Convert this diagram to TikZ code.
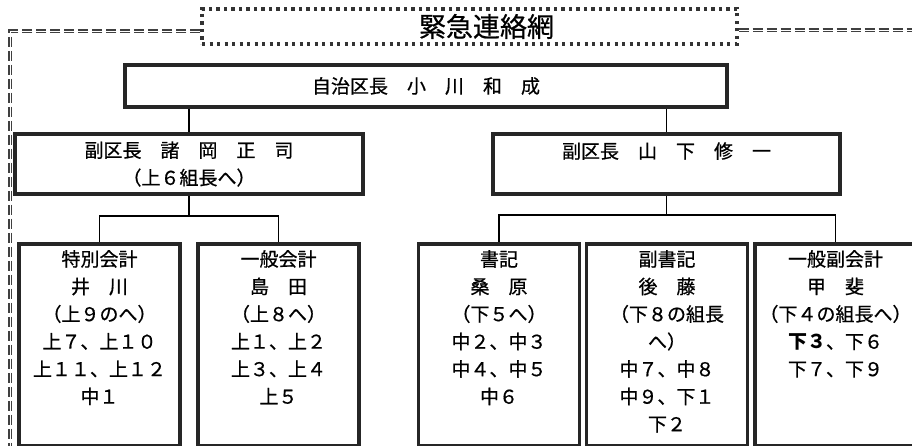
\documentclass[tikz,border=0pt]{standalone}
\usepackage{fontspec}
\setmainfont{Noto Sans CJK JP}[UprightFeatures={FakeBold=0.7}]
\usetikzlibrary{positioning}
\tikzstyle{every node}=[font=\fontsize{19}{27.5}\selectfont]
\tikzstyle{titlebox}=[draw=black!80,line width=3.4pt,dash pattern=on 3.2pt off 4.3pt,minimum width=535pt,minimum height=35pt,inner sep=0pt,font=\fontsize{27}{30}\selectfont]
\tikzstyle{postbox}=[draw=black!85,line width=3.6pt,align=center]
\tikzstyle{memberbox}=[postbox,anchor=north,minimum width=161pt,minimum height=202pt]
\tikzstyle{memberlist}=[anchor=north,align=center,inner sep=2pt,yshift=-6pt]
\tikzstyle{linkline}=[line width=1.8pt]
\tikzstyle{netframe}=[black!75,line width=1.3pt,double=white,double distance=0.8pt,dash pattern=on 10pt off 4pt]

\begin{document}
\begin{tikzpicture}[x=1pt,y=-1pt]
		\useasboundingbox (0,0) rectangle (912,446);
		% title and outer frame
		\node[titlebox] (title) at (469.5,26.5) {\hspace*{34pt}緊急連絡網};
		\coordinate (frameleft) at (10,31);
		\coordinate (frameright) at (920,30);
		\draw[netframe] (frameleft -| title.west) -- (frameleft) -- (10,450);
		\draw[netframe] (frameright -| title.east) -- (frameright);
		
		% chief and deputies
		\node[postbox,minimum width=602pt,minimum height=42pt] (chief) at (426,86) {自治区長　小　川　和　成};
		\node[postbox,minimum width=348pt,minimum height=60pt] (deputyup) at (189,164) {副区長　諸　岡　正　司\\（上６組長へ）};
		\node[postbox,minimum width=347pt,minimum height=60pt] (deputydown) at (666.5,164) {副区長　山　下　修　一\\\mbox{}};
		\draw[linkline] (deputyup.north) -- (deputyup.north |- chief.south);
		\draw[linkline] (deputydown.north) -- (deputydown.north |- chief.south);
		
		% members
		\node[memberbox,label={[memberlist]north:{特別会計\\井　川\\（上９のへ）\\上７、上１０\\上１１、上１２\\中１}}] (tokubetsu) at (99.5,242) {};
		\node[memberbox,label={[memberlist]north:{一般会計\\島　田\\（上８へ）\\上１、上２\\上３、上４\\上５}}] (ippan) at (278.5,242) {};
		\node[memberbox,label={[memberlist]north:{書記\\桑　原\\（下５へ）\\中２、中３\\中４、中５\\中６}}] (shoki) at (499,242) {};
		\node[memberbox,label={[memberlist]north:{副書記\\後　藤\\（下８の組長\\へ）\\中７、中８\\中９、下１\\下２}}] (fukushoki) at (667,242) {};
		\node[memberbox,label={[memberlist]north:{一般副会計\\甲　斐\\（下４の組長へ）\\\textbf{下３}、下６\\下７、下９}}] (fukukaikei) at (835.5,242) {};
		
		% branch lines
		\coordinate (busup) at (0,216);
		\coordinate (busdown) at (0,215);
		\draw[linkline] (deputyup.south) -- (deputyup.south |- busup);
		\draw[linkline] (tokubetsu.north) |- (ippan.north |- busup) -- (ippan.north);
		\draw[linkline] (deputydown.south) -- (deputydown.south |- busdown);
		\draw[linkline] (shoki.north) |- (fukukaikei.north |- busdown) -- (fukukaikei.north);
	\end{tikzpicture}
\end{document}
